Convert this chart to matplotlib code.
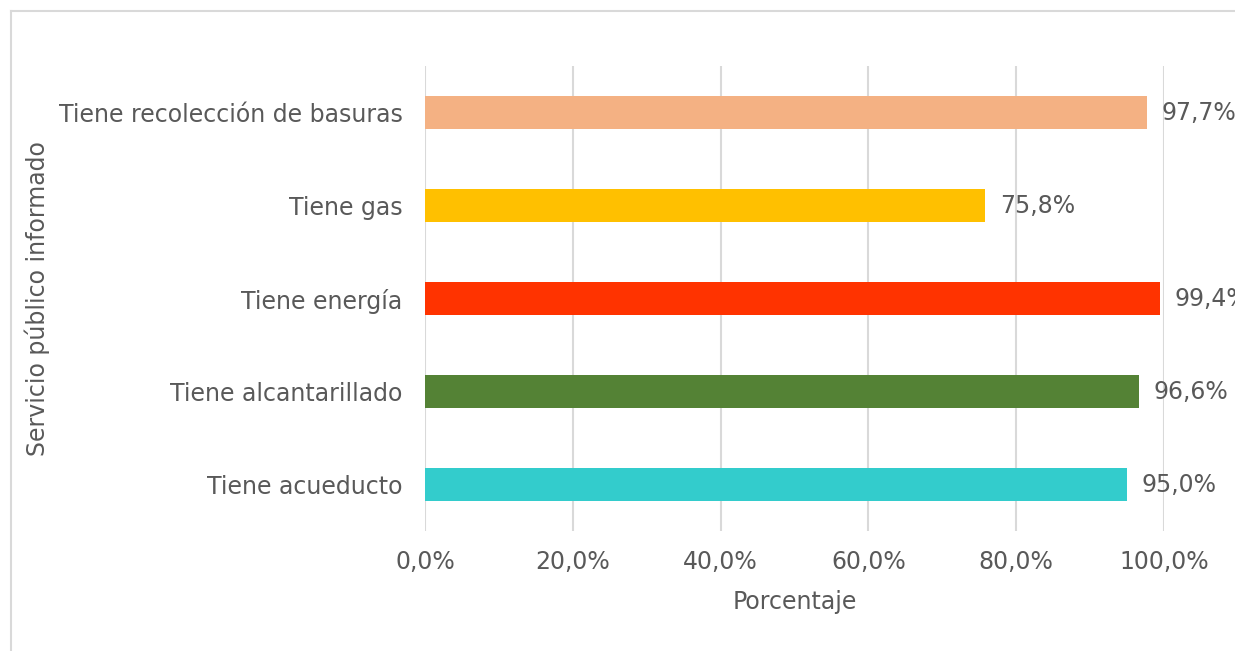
import matplotlib.pyplot as plt
from matplotlib.ticker import FuncFormatter, MultipleLocator
from matplotlib.lines import Line2D

plt.rcParams['font.family'] = ['DejaVu Sans']

categorias = ['Tiene acueducto', 'Tiene alcantarillado', 'Tiene energía',
              'Tiene gas', 'Tiene recolección de basuras']
valores = [95.0, 96.6, 99.4, 75.8, 97.7]
colores = ['#33CCCC', '#548235', '#FF3300', '#FFC000', '#F4B183']

txt = '#595959'
grid_c = '#D9D9D9'
fs = 17

fig = plt.figure(figsize=(12.35, 6.51), dpi=100)
ax = fig.add_axes([0.3441, 0.1843, 0.5984, 0.7143])

y = range(len(categorias))
ax.barh(y, valores, height=0.36, color=colores, zorder=3)
for i, v in enumerate(valores):
    ax.text(v + 2.0, i, ('%.1f' % v).replace('.', ',') + '%', va='center', ha='left',
            fontsize=fs, color=txt, clip_on=False)

ax.set_xlim(0, 100)
ax.set_ylim(-0.5, len(categorias) - 0.5)
ax.xaxis.set_major_locator(MultipleLocator(20))
ax.xaxis.set_major_formatter(FuncFormatter(lambda x, p: ('%.1f' % x).replace('.', ',') + '%'))
ax.set_yticks(list(y))
ax.set_yticklabels(categorias)
ax.grid(axis='x', color=grid_c, linewidth=1.5, zorder=0)
for s in ax.spines.values():
    s.set_visible(False)
ax.tick_params(axis='both', length=0, labelsize=fs, labelcolor=txt)
ax.tick_params(axis='x', pad=14)
ax.tick_params(axis='y', pad=16)

ax.set_xlabel('Porcentaje', fontsize=fs, color=txt)
ax.set_ylabel('Servicio público informado', fontsize=fs, color=txt)
ax.xaxis.set_label_coords(0.5, -0.126)
ax.yaxis.set_label_coords(-0.507, 0.5)

# borde del area del grafico
bx = 10.5 / 1235
by = 1 - 10.5 / 651
fig.add_artist(Line2D([bx, bx], [0, by], color=grid_c, linewidth=1.5, transform=fig.transFigure))
fig.add_artist(Line2D([bx, 1], [by, by], color=grid_c, linewidth=1.5, transform=fig.transFigure))

fig.savefig('out.png', dpi=100)
